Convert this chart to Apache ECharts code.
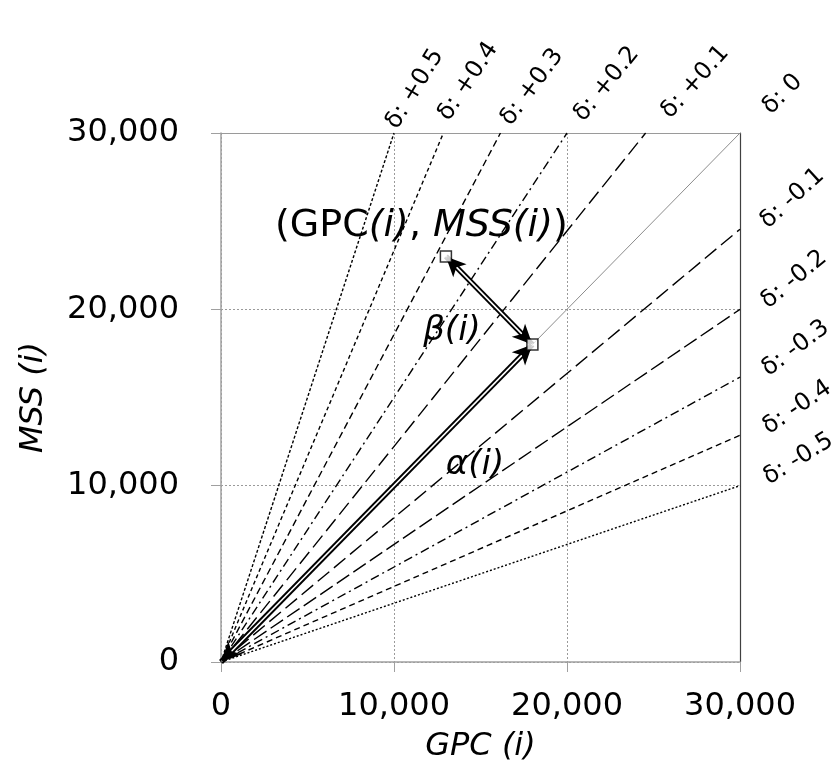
<!DOCTYPE html>
<html>
<head>
<meta charset="utf-8">
<script src="https://cdn.jsdelivr.net/npm/echarts@6/dist/echarts.min.js"></script>
<style>html,body{margin:0;padding:0;background:#fff}#c{width:835px;height:768px}</style>
</head>
<body>
<div id="c"></div>
<script>
// ---- data ----
const axisTicks = [0, 10000, 20000, 30000];
const deltaNames = ['+0.5', '+0.4', '+0.3', '+0.2', '+0.1', '0', '-0.1', '-0.2', '-0.3', '-0.4', '-0.5'];
const deltaEndX = [10000, 12857, 16154, 20000, 24545, 30000, 30000, 30000, 30000, 30000, 30000];
const deltaEndY = [30000, 30000, 30000, 30000, 30000, 30000, 24545, 20000, 16154, 12857, 10000];
const pointGM = [13000, 23000];   // (GPC(i), MSS(i))
const pointDiag = [18000, 18000]; // projection on delta = 0
const origin = [0, 0];

// ---- styles ----
const dashes = {
  '+0.5': [3, 2], '+0.4': [4, 3], '+0.3': [7, 4], '+0.2': [9, 4, 2, 4], '+0.1': [15, 6],
  '0': 'solid',
  '-0.1': [15, 6], '-0.2': [15, 5], '-0.3': [9, 4, 2, 4], '-0.4': [6, 4], '-0.5': [2, 2]
};
// label placement offsets (pixels) for the labels above the plot
const topDx = [8, 10, 15, 21, 29, 35];
const topDy = [0, -8, -3, -7, -10, -14];
const FONT = 'DejaVu Sans';
const AXIS_GRAY = '#a0a0a0';

const chart = echarts.init(document.getElementById('c'), null, {renderer: 'canvas'});

const series = deltaNames.map((n, i) => ({
  type: 'line', name: n, symbol: 'none', silent: true, animation: false,
  data: [[0, 0], [deltaEndX[i], deltaEndY[i]]],
  lineStyle: n === '0' ? {color: '#8c8c8c', width: 1, type: 'solid'} : {color: '#000', width: 1.4, type: dashes[n]},
  z: 2
}));

function arrowSeries(from, to, z) {
  const base = {type: 'line', data: [], silent: true, animation: false};
  return [
    Object.assign({}, base, {z: z, markLine: {silent: true, animation: false, symbol: ['none', 'none'], label: {show: false},
       lineStyle: {color: '#000', width: 5.5, type: 'solid'}, data: [[{coord: from}, {coord: to}]]}}),
    Object.assign({}, base, {z: z + 1, markLine: {silent: true, animation: false, symbol: ['none', 'none'], label: {show: false},
       lineStyle: {color: '#fff', width: 1.6, type: 'solid'}, data: [[{coord: from}, {coord: to}]]}}),
    Object.assign({}, base, {z: z + 2, markLine: {silent: true, animation: false, symbol: ['arrow', 'arrow'], symbolSize: [14, 20], label: {show: false},
       lineStyle: {color: '#000', width: 0.01, type: 'solid'}, data: [[{coord: from}, {coord: to}]]}})
  ];
}
series.push(...arrowSeries(origin, pointDiag, 5));
series.push(...arrowSeries(pointGM, pointDiag, 8));
series.push({
  type: 'scatter', silent: true, animation: false, z: 12,
  symbol: 'rect', symbolSize: 11,
  itemStyle: {color: '#fff', borderColor: '#000', borderWidth: 1.5},
  data: [pointGM, pointDiag]
});

const range = {type: 'value', min: axisTicks[0], max: axisTicks[axisTicks.length - 1], interval: axisTicks[1] - axisTicks[0]};
const labelStyle = {fontFamily: FONT, fontSize: 32, color: '#000', formatter: v => v.toLocaleString('en-US')};
const nameStyle = {fontFamily: FONT, fontSize: 32, fontStyle: 'italic', color: '#000'};
const mainAxis = Object.assign({}, range, {
  axisLine: {show: true, lineStyle: {color: AXIS_GRAY, width: 1.5}},
  axisTick: {show: true, inside: false, length: 10, lineStyle: {color: AXIS_GRAY, width: 1}},
  splitLine: {show: true, lineStyle: {color: '#9a9a9a', width: 1, type: [2, 2]}},
  nameTextStyle: nameStyle, nameLocation: 'middle'
});
const frameAxis = (pos, color) => Object.assign({}, range, {
  position: pos, axisLine: {show: true, onZero: false, lineStyle: {color: color, width: 1.2}},
  axisTick: {show: false}, axisLabel: {show: false}, splitLine: {show: false}
});

chart.setOption({
  backgroundColor: '#fff',
  animation: false,
  grid: {left: 221, right: 95, top: 133, bottom: 101, show: false},
  xAxis: [
    Object.assign({}, mainAxis, {name: 'GPC (i)', nameGap: 69, axisLabel: Object.assign({}, labelStyle, {margin: 29})}),
    frameAxis('top', '#9a9a9a')
  ],
  yAxis: [
    Object.assign({}, mainAxis, {name: 'MSS (i)', nameGap: 171, nameRotate: 90, axisLabel: Object.assign({}, labelStyle, {margin: 42})}),
    frameAxis('right', '#404040')
  ],
  series: series
});

// ---- text annotations ----
const g = [];
let ti = 0;
deltaNames.forEach((n, i) => {
  const p = chart.convertToPixel({gridIndex: 0}, [deltaEndX[i], deltaEndY[i]]);
  const o = chart.convertToPixel({gridIndex: 0}, origin);
  // label tilt: halfway between 45 degrees and the line's own on-screen angle
  const lineAngle = Math.atan2(o[1] - p[1], p[0] - o[0]) * 180 / Math.PI;
  const rot = 45 + (lineAngle - 45) * 0.5;
  let x, y;
  if (deltaEndY[i] >= axisTicks[axisTicks.length - 1]) {
    x = p[0] + topDx[ti]; y = p[1] + topDy[ti]; ti++;
  } else {
    x = 772; y = p[1] + 4;
  }
  g.push({type: 'text', x: x, y: y, rotation: rot * Math.PI / 180, z: 20,
    style: {text: 'δ: ' + n, fontFamily: FONT, fontSize: 24, fill: '#000', textAlign: 'left', textVerticalAlign: 'bottom'}});
});
g.push({type: 'text', x: 275, y: 226, z: 20, style: {
  text: '{n|(GPC}{i|(i)}{n|, }{i|MSS(i)}{n|)}', textVerticalAlign: 'middle',
  rich: {n: {fontFamily: FONT, fontSize: 38, fill: '#000'}, i: {fontFamily: FONT, fontSize: 38, fontStyle: 'italic', fill: '#000'}}
}});
g.push({type: 'text', x: 452, y: 331, z: 20, style: {text: 'β(i)', fontFamily: FONT, fontSize: 34, fontStyle: 'italic', fill: '#000', textAlign: 'center', textVerticalAlign: 'middle'}});
g.push({type: 'text', x: 475, y: 465, z: 20, style: {text: 'α(i)', fontFamily: FONT, fontSize: 34, fontStyle: 'italic', fill: '#000', textAlign: 'center', textVerticalAlign: 'middle'}});
chart.setOption({graphic: g});
</script>
</body>
</html>
